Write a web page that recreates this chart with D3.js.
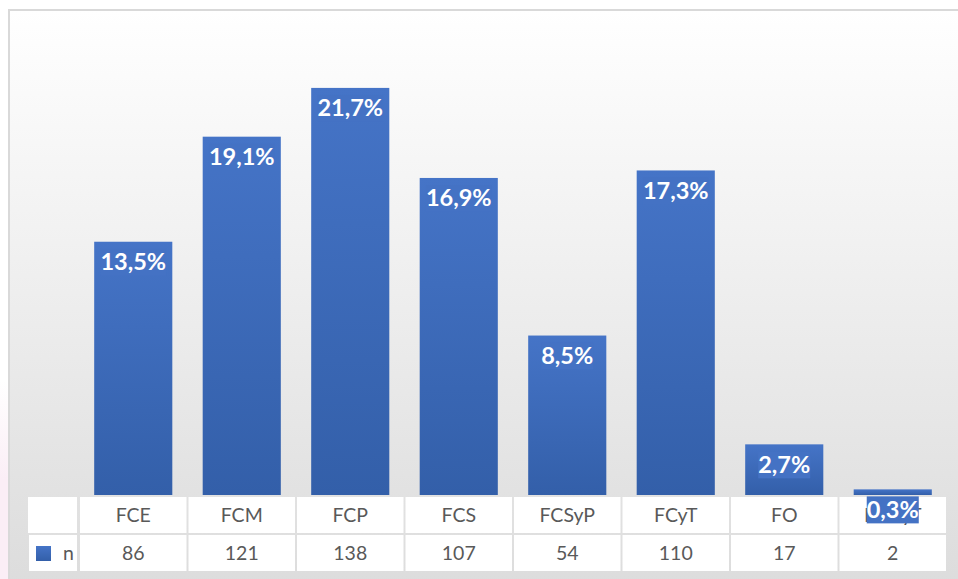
<!DOCTYPE html>
<html>
<head>
<meta charset="utf-8">
<script src="https://cdn.jsdelivr.net/npm/d3@7"></script>
<style>
  html, body { margin: 0; padding: 0; background: #fff; overflow: hidden; }
</style>
</head>
<body>
<svg id="grafico" width="958" height="579"></svg>
<script>
// datos
const categorias = ["FCE", "FCM", "FCP", "FCS", "FCSyP", "FCyT", "FO", "FDRyT"];
const valoresN = [86, 121, 138, 107, 54, 110, 17, 2];
const porcentajes = [13.5, 19.1, 21.7, 16.9, 8.5, 17.3, 2.7, 0.3];
const nombreSerie = "n";

const svg = d3.select("#grafico");
const defs = svg.append("defs");

const fondo = defs.append("linearGradient")
    .attr("id", "fondo").attr("x1", 0).attr("y1", 0).attr("x2", 0).attr("y2", 1);
fondo.append("stop").attr("offset", "0%").attr("stop-color", "#ffffff");
fondo.append("stop").attr("offset", "100%").attr("stop-color", "#dcdcdc");

const relleno = defs.append("linearGradient")
    .attr("id", "relleno").attr("x1", 0).attr("y1", 0).attr("x2", 0).attr("y2", 1);
relleno.append("stop").attr("offset", "0%").attr("stop-color", "#4574c7");
relleno.append("stop").attr("offset", "100%").attr("stop-color", "#335fa9");

const rosa = defs.append("linearGradient")
    .attr("id", "rosa").attr("x1", 0).attr("y1", 0).attr("x2", 0).attr("y2", 1);
rosa.append("stop").attr("offset", "0%").attr("stop-color", "#fbeef6").attr("stop-opacity", 0);
rosa.append("stop").attr("offset", "50%").attr("stop-color", "#fbeef6").attr("stop-opacity", 1);
rosa.append("stop").attr("offset", "100%").attr("stop-color", "#fbeef6").attr("stop-opacity", 1);

// tinte rosado fuera del marco
svg.append("rect")
    .attr("x", 0).attr("y", 380).attr("width", 8).attr("height", 199)
    .attr("fill", "url(#rosa)");

// marco y fondo del grafico
svg.append("rect")
    .attr("x", 9).attr("y", 10).attr("width", 960).attr("height", 580)
    .attr("fill", "url(#fondo)")
    .attr("stroke", "#d9d9d9")
    .attr("stroke-width", 2);

const x = d3.scaleBand()
    .domain(categorias)
    .range([79, 947])
    .paddingInner(0.28)
    .paddingOuter(0.14);

const y = d3.scaleLinear()
    .domain([0, 25])
    .range([495, 26]);

const paso = x.step();

// tabla de datos
const tabla = svg.append("g");
const filaCat = 497, filaVal = 535, altoFila = 36;

tabla.append("rect")
    .attr("x", 28).attr("y", filaCat).attr("width", 49).attr("height", altoFila)
    .attr("fill", "#fff");
tabla.append("rect")
    .attr("x", 29).attr("y", filaVal).attr("width", 48).attr("height", altoFila)
    .attr("fill", "#fff");

categorias.forEach((c, i) => {
    const x0 = 79 + i * paso;
    tabla.append("rect")
        .attr("x", x0 + 1).attr("y", filaCat).attr("width", paso - 2).attr("height", altoFila)
        .attr("fill", "#fff");
    tabla.append("rect")
        .attr("x", x0 + 1).attr("y", filaVal).attr("width", paso - 2).attr("height", altoFila)
        .attr("fill", "#fff");
    tabla.append("text")
        .attr("x", x(c) + x.bandwidth() / 2)
        .attr("y", filaCat + altoFila / 2)
        .attr("dy", "0.36em")
        .attr("text-anchor", "middle")
        .style("font-family", "Lato, 'Noto Sans', sans-serif")
        .style("font-size", "19.5px")
        .style("fill", "#595959")
        .text(c);
    tabla.append("text")
        .attr("x", x(c) + x.bandwidth() / 2)
        .attr("y", filaVal + altoFila / 2)
        .attr("dy", "0.36em")
        .attr("text-anchor", "middle")
        .style("font-family", "Lato, 'Noto Sans', sans-serif")
        .style("font-size", "19.5px")
        .style("fill", "#595959")
        .text(valoresN[i]);
});

// leyenda en la tabla
tabla.append("rect")
    .attr("x", 36).attr("y", 546).attr("width", 15).attr("height", 15)
    .attr("fill", "url(#relleno)");
tabla.append("text")
    .attr("x", 63).attr("y", filaVal + altoFila / 2)
    .attr("dy", "0.36em")
    .style("font-family", "Lato, 'Noto Sans', sans-serif")
    .style("font-size", "19.5px")
    .style("fill", "#595959")
    .text(nombreSerie);

// barras
svg.append("g")
    .selectAll("rect")
    .data(categorias)
    .join("rect")
    .attr("x", d => x(d))
    .attr("y", (d, i) => y(porcentajes[i]))
    .attr("width", x.bandwidth())
    .attr("height", (d, i) => y(0) - y(porcentajes[i]))
    .attr("fill", "url(#relleno)");

// etiquetas de porcentaje
const etiquetas = svg.append("g");
categorias.forEach((c, i) => {
    const cx = x(c) + x.bandwidth() / 2;
    const cy = y(porcentajes[i]) + 20;
    const g = etiquetas.append("g");
    const t = g.append("text")
        .attr("x", cx).attr("y", cy)
        .attr("dy", "0.36em")
        .attr("text-anchor", "middle")
        .style("font-family", "Lato, 'Noto Sans', sans-serif")
        .style("font-weight", "bold")
        .style("font-size", "23.5px")
        .style("fill", "#fff")
        .text(porcentajes[i].toFixed(1).replace(".", ",") + "%");
    const b = t.node().getBBox();
    g.insert("rect", "text")
        .attr("x", b.x).attr("y", cy - 13)
        .attr("width", b.width).attr("height", 27)
        .attr("fill", "#4472c4");
});
</script>
</body>
</html>
